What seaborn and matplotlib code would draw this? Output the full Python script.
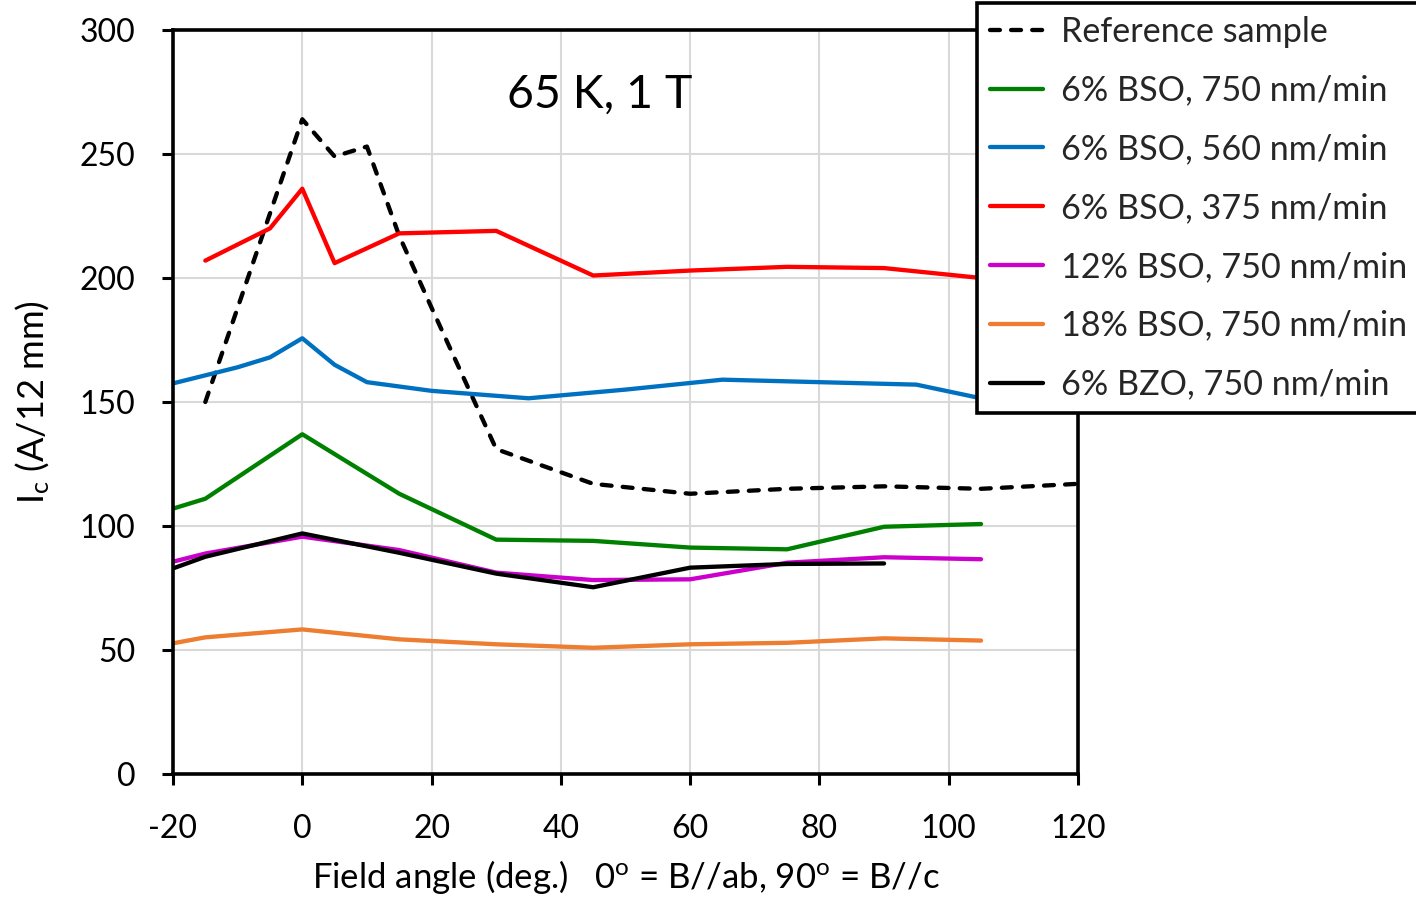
import matplotlib
matplotlib.use("Agg")
import matplotlib.pyplot as plt
import seaborn as sns
import pandas as pd

# Field angle (deg.) and critical current Ic (A/12 mm) for each sample
angle_ref = [-15, 0, 5, 10, 15, 20, 30, 45, 60, 75, 90, 105, 120]
ic_ref = [150, 264, 249, 253, 217, 188, 131, 117, 113, 115, 116, 115, 117]

angle_bso6_750 = [-20, -15, 0, 15, 30, 45, 60, 75, 90, 105]
ic_bso6_750 = [107, 111, 137, 113, 94.5, 94, 91.3, 90.6, 99.7, 100.8]

angle_bso6_560 = [-20, -10, -5, 0, 5, 10, 20, 30, 35, 50, 65, 80, 95, 105]
ic_bso6_560 = [157.5, 164, 168, 175.7, 165, 158, 154.5, 152.5, 151.5, 155, 159, 158, 157, 151.5]

angle_bso6_375 = [-15, -5, 0, 5, 15, 30, 45, 60, 75, 90, 105]
ic_bso6_375 = [207, 220, 236, 206, 218, 219, 201, 203, 204.5, 204, 200]

angle_bso12_750 = [-20, -15, 0, 15, 30, 45, 60, 75, 90, 105]
ic_bso12_750 = [85.6, 88.9, 95.7, 90.3, 81.2, 78.2, 78.5, 85.2, 87.4, 86.6]

angle_bso18_750 = [-20, -15, 0, 15, 30, 45, 60, 75, 90, 105]
ic_bso18_750 = [52.7, 55.1, 58.3, 54.3, 52.3, 50.9, 52.3, 52.9, 54.7, 53.8]

angle_bzo6_750 = [-20, -15, 0, 15, 30, 45, 60, 75, 90]
ic_bzo6_750 = [82.9, 87.6, 97, 89.2, 80.8, 75.3, 83.2, 84.7, 84.9]

series_labels = [
    "Reference sample",
    "6% BSO, 750 nm/min",
    "6% BSO, 560 nm/min",
    "6% BSO, 375 nm/min",
    "12% BSO, 750 nm/min",
    "18% BSO, 750 nm/min",
    "6% BZO, 750 nm/min",
]
series_angles = [angle_ref, angle_bso6_750, angle_bso6_560, angle_bso6_375,
                 angle_bso12_750, angle_bso18_750, angle_bzo6_750]
series_ic = [ic_ref, ic_bso6_750, ic_bso6_560, ic_bso6_375,
             ic_bso12_750, ic_bso18_750, ic_bzo6_750]
series_colors = ["#000000", "#008000", "#0070C0", "#FF0000",
                 "#CC00CC", "#ED7D31", "#000000"]

x_ticks = [-20, 0, 20, 40, 60, 80, 100, 120]
y_ticks = [0, 50, 100, 150, 200, 250, 300]

sns.set_style("white")
plt.rcParams["font.family"] = ["Lato", "DejaVu Sans"]
plt.rcParams["mathtext.default"] = "regular"

fig = plt.figure(figsize=(14.16, 8.98), dpi=100)
ax = fig.add_axes([173 / 1416, 1 - 774 / 898, (1078 - 173) / 1416, (774 - 30) / 898])

for label, xs, ys, color in zip(series_labels, series_angles, series_ic, series_colors):
    df = pd.DataFrame({"angle": xs, "ic": ys})
    dashed = label == "Reference sample"
    sns.lineplot(data=df, x="angle", y="ic", ax=ax, color=color, label=label,
                 linewidth=3.1, sort=False, estimator=None,
                 linestyle="--" if dashed else "-")
    line = ax.get_lines()[-1]
    if dashed:
        line.set_dashes((2.3, 2.6))
        line.set_dash_capstyle("round")
    else:
        line.set_solid_capstyle("round")
    line.set_solid_joinstyle("round")

ax.set_xlim(-20, 120)
ax.set_ylim(0, 300)
ax.set_xticks(x_ticks)
ax.set_yticks(y_ticks)
ax.set_xticklabels([str(t) for t in x_ticks])
ax.set_yticklabels([str(t) for t in y_ticks])

ax.grid(True, color="#d9d9d9", linewidth=1.5)
ax.set_axisbelow(True)
for side in ["left", "right", "top", "bottom"]:
    ax.spines[side].set_visible(True)
    ax.spines[side].set_color("black")
    ax.spines[side].set_linewidth(2.6)

ax.tick_params(axis="both", which="major", direction="out", length=8, width=2.2,
               color="black", labelsize=23, labelcolor="black")
ax.tick_params(axis="y", pad=19, left=True)
ax.tick_params(axis="x", pad=21, bottom=True)

ax.set_xlabel("Field angle (deg.)   0$^{o}$ = B//ab, 90$^{o}$ = B//c",
              fontsize=25, labelpad=10, color="black")
ax.set_ylabel("I$_{c}$ (A/12 mm)", fontsize=26, labelpad=20, color="black")

ax.text(46, 274.0, "65 K, 1 T", fontsize=33.5, ha="center", va="center", color="black")

ax.get_legend().remove()
handles, labels = ax.get_legend_handles_labels()
leg = fig.legend(handles, labels, loc="upper left",
                 bbox_to_anchor=(977 / 1416, 1 - 3 / 898),
                 bbox_transform=fig.transFigure, borderaxespad=0,
                 fontsize=24.6, frameon=True, fancybox=False, framealpha=1,
                 edgecolor="black", borderpad=0.37, labelspacing=0.785,
                 handlelength=1.55, handletextpad=0.55)
leg.get_frame().set_linewidth(2.6)
for lh in leg.get_lines():
    lh.set_linewidth(3.1)

fig.savefig("out.png", dpi=100)
